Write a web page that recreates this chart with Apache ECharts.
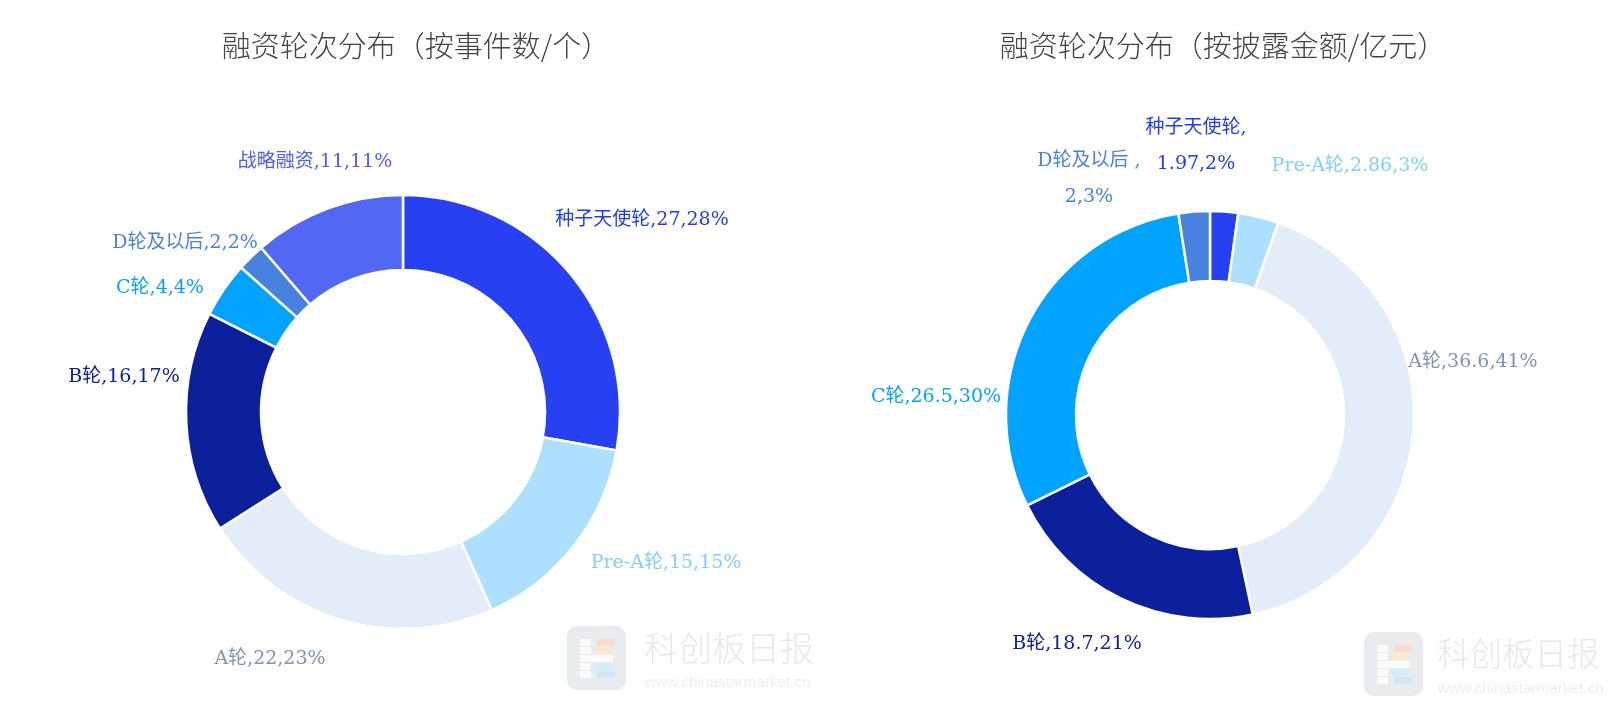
<!DOCTYPE html>
<html>
<head>
<meta charset="utf-8">
<style>
html, body { margin: 0; padding: 0; background: #fff; }
#main { width: 1613px; height: 711px; }
</style>
<script src="https://cdn.jsdelivr.net/npm/echarts@6/dist/echarts.min.js"></script>
</head>
<body>
<div id="main"></div>
<script>
var labelFont = '"DejaVu Serif", "Noto Sans CJK SC", serif';
var titleFont = '"Noto Sans CJK SC", "Noto Sans", sans-serif';

// left donut: events
var leftTitle = '融资轮次分布（按事件数/个）';
var leftNames = ['种子天使轮', 'Pre-A轮', 'A轮', 'B轮', 'C轮', 'D轮及以后', '战略融资'];
var leftValues = [27, 15, 22, 16, 4, 2, 11];
var leftShown = ['27', '15', '22', '16', '4', '2', '11'];
var leftPct = [28, 15, 23, 17, 4, 2, 11];
var leftColors = ['#2640f2', '#ade0ff', '#e3edfa', '#0b209a', '#00a3ff', '#4682de', '#5268f2'];
var leftTextColors = ['#1f3cf0', '#7fcfff', '#7f93b5', '#0b209a', '#00a3ff', '#4682de', '#4a60f2'];

// right donut: disclosed amount
var rightTitle = '融资轮次分布（按披露金额/亿元）';
var rightNames = ['种子天使轮', 'Pre-A轮', 'A轮', 'B轮', 'C轮', 'D轮及以后'];
var rightValues = [1.97, 2.86, 36.6, 18.7, 26.5, 2.2];
var rightShown = ['1.97', '2.86', '36.6', '18.7', '26.5', '2'];
var rightPct = [2, 3, 41, 21, 30, 3];
var rightColors = ['#2640f2', '#ade0ff', '#e3edfa', '#0b209a', '#00a3ff', '#4682de'];
var rightTextColors = ['#1f3cf0', '#7fcfff', '#7f93b5', '#0b209a', '#00a3ff', '#4682de'];

// where the labels sit, the default outside placement lands too close in
var leftLabelSpots = [[642, 220], [666, 563], [270, 659], [124, 377], [160, 288], [185, 243], [315, 162]];
var rightLabelSpots = [[1196, 146], [1350, 166], [1473, 362], [1077, 644], [936, 397], [1089, 179]];

function buildData(names, values, shown, pct, colors, textColors, breaks) {
    return names.map(function (n, i) {
        var text = n + (breaks && breaks[i] ? breaks[i] : ',') + shown[i] + ',' + pct[i] + '%';
        return {
            name: n,
            value: values[i],
            itemStyle: { color: colors[i] },
            label: { color: textColors[i], formatter: text }
        };
    });
}

function pieSeries(center, radius, data, spots) {
    return {
        type: 'pie',
        center: center,
        radius: radius,
        startAngle: 90,
        clockwise: true,
        avoidLabelOverlap: false,
        silent: true,
        animation: false,
        data: data,
        itemStyle: { borderColor: '#fff', borderWidth: 2.5 },
        label: {
            show: true,
            position: 'outside',
            fontFamily: labelFont,
            fontSize: 19,
            lineHeight: 36
        },
        labelLine: { show: false },
        labelLayout: function (params) {
            var s = spots[params.dataIndex];
            return { x: s[0], y: s[1], align: 'center', verticalAlign: 'middle' };
        }
    };
}

function logo(x, y, textX, nameSize, siteSize) {
    var white = '#fbfbfb';
    return {
        type: 'group',
        x: x,
        y: y,
        silent: true,
        children: [
            { type: 'rect', shape: { x: 0, y: 0, width: 59, height: 64, r: 10 }, style: { fill: '#e9ecef' } },
            { type: 'rect', shape: { x: 13, y: 13, width: 11, height: 7 }, style: { fill: white } },
            { type: 'rect', shape: { x: 13, y: 21, width: 11, height: 7 }, style: { fill: white } },
            { type: 'rect', shape: { x: 13, y: 29, width: 33, height: 7 }, style: { fill: white } },
            { type: 'rect', shape: { x: 13, y: 37, width: 11, height: 7 }, style: { fill: white } },
            { type: 'rect', shape: { x: 13, y: 45, width: 11, height: 7 }, style: { fill: white } },
            { type: 'rect', shape: { x: 30, y: 13, width: 18, height: 7 }, style: { fill: '#f9dccf' } },
            { type: 'rect', shape: { x: 28, y: 21, width: 17, height: 7 }, style: { fill: '#fbe8cf' } },
            { type: 'rect', shape: { x: 28, y: 37, width: 17, height: 7 }, style: { fill: '#d2ecfa' } },
            { type: 'rect', shape: { x: 30, y: 45, width: 18, height: 7 }, style: { fill: '#d5e5f8' } },
            { type: 'text', x: textX, y: 5, style: { text: '科创板日报', font: '300 ' + nameSize + 'px "Noto Sans CJK SC"', fill: '#e6e8eb' } },
            { type: 'text', x: textX + 1, y: 49, style: { text: 'www.chinastarmarket.cn', font: siteSize + 'px "Liberation Sans"', fill: '#eceef0' } }
        ]
    };
}

var chart = echarts.init(document.getElementById('main'));
var option = {
    backgroundColor: '#fff',
    title: [
        {
            text: leftTitle, left: 411, top: 26, textAlign: 'center',
            textStyle: { fontFamily: titleFont, fontSize: 29, fontWeight: 300, color: '#444' }
        },
        {
            text: rightTitle, left: 1218, top: 26, textAlign: 'center',
            textStyle: { fontFamily: titleFont, fontSize: 29, fontWeight: 300, color: '#444' }
        }
    ],
    graphic: [logo(567, 626, 77, 34, 15.3), logo(1364, 632, 73, 32.5, 15.3)],
    series: [
        pieSeries([403, 412], [142, 217], buildData(leftNames, leftValues, leftShown, leftPct, leftColors, leftTextColors), leftLabelSpots),
        pieSeries([1210, 415], [134, 204], buildData(rightNames, rightValues, rightShown, rightPct, rightColors, rightTextColors, [',\n', 0, 0, 0, 0, ' ,\n']), rightLabelSpots)
    ]
};
chart.setOption(option);
</script>
</body>
</html>
